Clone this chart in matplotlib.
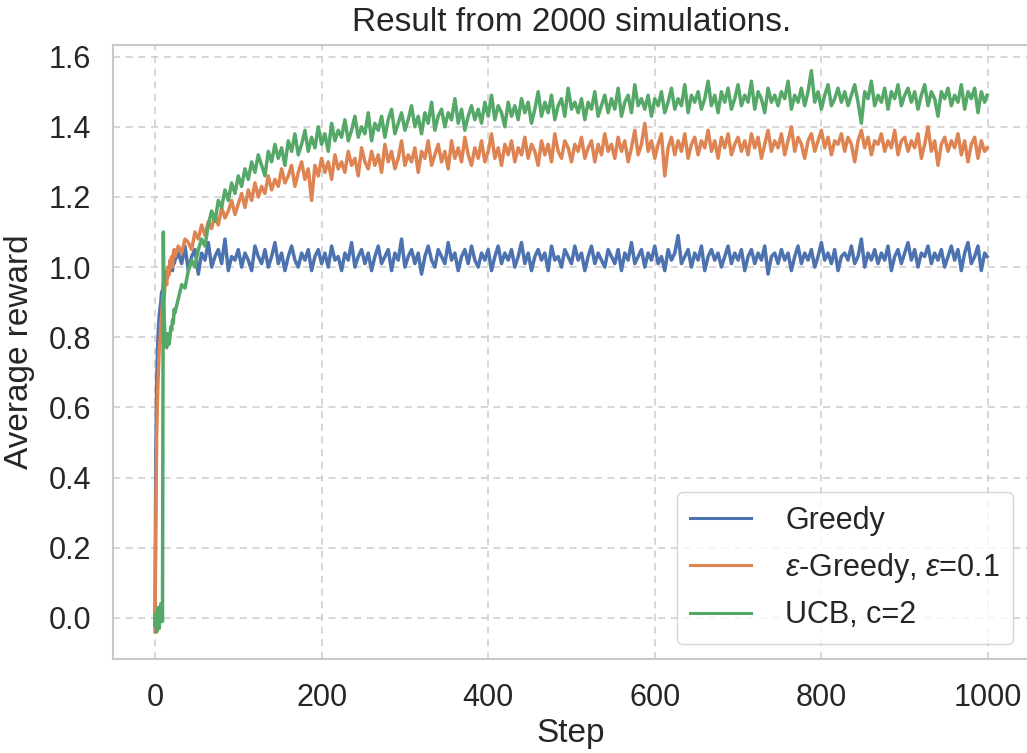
import matplotlib
matplotlib.use("Agg")
import matplotlib.pyplot as plt
import numpy as np

# ---------------- data ----------------
steps = list(range(25)) + list(range(28, 997, 4)) + [999]

greedy = [
    -0.02, 0.45, 0.66, 0.76, 0.82, 0.86, 0.88, 0.90, 0.93, 0.92,
    0.95, 0.94, 0.97, 0.96, 0.99, 0.97, 1.00, 0.98, 1.01, 1.00,
    1.02, 0.99, 1.03, 1.01, 1.02,
    1.04, 1.01, 1.06, 0.99, 1.03, 1.05, 0.98, 1.04, 1.02, 1.07,
    1.00, 1.03, 1.05, 1.01, 1.08, 0.99, 1.03, 1.02, 1.05, 1.00,
    1.04, 1.02, 0.99, 1.06, 1.03, 1.01, 1.05, 1.00, 1.03, 1.07,
    1.01, 1.04, 0.99, 1.03, 1.06, 1.02, 1.00, 1.04, 1.02, 1.05,
    0.99, 1.03, 1.05, 1.01, 1.04, 1.00, 1.06, 1.02, 1.03, 0.99,
    1.04, 1.02, 1.07, 1.00, 1.03, 1.05, 1.01, 1.04, 0.99, 1.03,
    1.06, 1.01, 1.03, 1.05, 0.99, 1.04, 1.02, 1.08, 1.00, 1.03,
    1.05, 1.01, 1.04, 0.98, 1.03, 1.06, 1.02, 1.00, 1.05, 1.03,
    1.01, 1.07, 1.02, 1.04, 0.99, 1.03, 1.05, 1.01, 1.06, 1.02,
    1.00, 1.04, 1.02, 1.05, 0.99, 1.03, 1.06, 1.01, 1.04, 1.02,
    1.05, 1.00, 1.03, 1.07, 1.01, 1.04, 0.99, 1.03, 1.05, 1.02,
    1.04, 0.99, 1.06, 1.02, 1.03, 1.00, 1.05, 1.03, 1.01, 1.06,
    1.02, 1.04, 0.99, 1.03, 1.06, 1.01, 1.04, 1.02, 1.00, 1.05,
    1.03, 1.01, 1.05, 0.99, 1.04, 1.02, 1.07, 1.01, 1.03, 1.05,
    1.00, 1.04, 1.02, 1.06, 1.01, 1.03, 0.99, 1.05, 1.02, 1.04,
    1.09, 1.01, 1.03, 1.05, 1.00, 1.04, 1.02, 1.06, 0.99, 1.03,
    1.05, 1.02, 1.04, 1.00, 1.03, 1.06, 1.01, 1.04, 1.02, 1.05,
    0.99, 1.03, 1.05, 1.01, 1.04, 1.02, 1.06, 0.98, 1.03, 1.04,
    1.01, 1.05, 1.02, 1.04, 0.99, 1.03, 1.06, 1.01, 1.04, 1.02,
    1.05, 1.00, 1.03, 1.07, 1.02, 1.04, 1.01, 1.05, 0.99, 1.03,
    1.04, 1.02, 1.06, 1.01, 1.03, 1.08, 1.00, 1.04, 1.02, 1.05,
    1.01, 1.04, 1.02, 1.06, 0.99, 1.03, 1.05, 1.01, 1.04, 1.07,
    1.02, 1.05, 1.00, 1.04, 1.03, 1.06, 1.01, 1.04, 1.02, 1.05,
    1.00, 1.03, 1.06, 1.02, 1.05, 0.99, 1.04, 1.07, 1.01, 1.03,
    1.06, 0.99, 1.04, 1.03,
]

eps_greedy = [
    -0.04, 0.28, 0.52, 0.63, 0.70, 0.76, 0.79, 0.84, 0.86, 0.90,
    0.92, 0.91, 0.95, 0.97, 0.95, 0.99, 1.00, 0.98, 1.02, 1.01,
    1.03, 1.00, 1.04, 1.05, 1.03,
    1.06, 1.04, 1.08, 1.07, 1.05, 1.10, 1.08, 1.12, 1.09, 1.13,
    1.11, 1.15, 1.12, 1.17, 1.14, 1.16, 1.19, 1.15, 1.18, 1.21,
    1.17, 1.22, 1.19, 1.24, 1.20, 1.23, 1.21, 1.26, 1.22, 1.25,
    1.23, 1.28, 1.24, 1.26, 1.29, 1.23, 1.27, 1.30, 1.25, 1.28,
    1.19, 1.29, 1.26, 1.31, 1.27, 1.30, 1.25, 1.32, 1.28, 1.30,
    1.27, 1.33, 1.29, 1.31, 1.26, 1.34, 1.30, 1.28, 1.33, 1.29,
    1.32, 1.27, 1.35, 1.30, 1.33, 1.28, 1.31, 1.36, 1.29, 1.32,
    1.30, 1.34, 1.27, 1.33, 1.31, 1.36, 1.29, 1.32, 1.35, 1.30,
    1.33, 1.28, 1.36, 1.31, 1.34, 1.30, 1.37, 1.32, 1.29, 1.34,
    1.31, 1.36, 1.30, 1.33, 1.38, 1.31, 1.34, 1.29, 1.35, 1.32,
    1.36, 1.30, 1.34, 1.32, 1.37, 1.31, 1.35, 1.33, 1.29, 1.36,
    1.32, 1.35, 1.30, 1.38, 1.33, 1.31, 1.36, 1.34, 1.30, 1.35,
    1.33, 1.37, 1.31, 1.34, 1.36, 1.30, 1.35, 1.32, 1.38, 1.33,
    1.35, 1.31, 1.37, 1.33, 1.36, 1.30, 1.34, 1.39, 1.32, 1.35,
    1.41, 1.33, 1.36, 1.31, 1.35, 1.38, 1.26, 1.34, 1.37, 1.32,
    1.36, 1.33, 1.38, 1.31, 1.35, 1.37, 1.32, 1.36, 1.34, 1.39,
    1.33, 1.36, 1.31, 1.37, 1.34, 1.38, 1.32, 1.35, 1.37, 1.33,
    1.36, 1.32, 1.38, 1.34, 1.37, 1.31, 1.35, 1.39, 1.33, 1.36,
    1.34, 1.38, 1.32, 1.36, 1.40, 1.33, 1.37, 1.35, 1.31, 1.36,
    1.38, 1.33, 1.36, 1.39, 1.34, 1.37, 1.32, 1.36, 1.35, 1.38,
    1.33, 1.37, 1.35, 1.30, 1.36, 1.39, 1.34, 1.37, 1.32, 1.36,
    1.35, 1.38, 1.33, 1.36, 1.34, 1.39, 1.32, 1.36, 1.37, 1.33,
    1.36, 1.34, 1.38, 1.31, 1.35, 1.40, 1.33, 1.36, 1.29, 1.35,
    1.37, 1.33, 1.36, 1.34, 1.38, 1.32, 1.36, 1.30, 1.35, 1.37,
    1.31, 1.36, 1.33, 1.34,
]

ucb = [
    -0.02, 0.01, -0.04, 0.02, 0.03, -0.03, 0.00, 0.04, 0.02, -0.01,
    1.10, 0.86, 0.80, 0.79, 0.77, 0.81, 0.79, 0.78, 0.80, 0.83,
    0.82, 0.85, 0.84, 0.88, 0.87,
    0.91, 0.95, 0.94, 0.99, 1.02, 1.00, 1.05, 1.08, 1.06, 1.12,
    1.16, 1.13, 1.19, 1.17, 1.22, 1.19, 1.24, 1.21, 1.26, 1.23,
    1.28, 1.25, 1.30, 1.27, 1.32, 1.29, 1.26, 1.33, 1.30, 1.35,
    1.31, 1.34, 1.29, 1.36, 1.33, 1.38, 1.32, 1.35, 1.39, 1.33,
    1.37, 1.34, 1.40, 1.35, 1.38, 1.33, 1.41, 1.36, 1.39, 1.37,
    1.42, 1.36, 1.39, 1.43, 1.37, 1.40, 1.38, 1.44, 1.36, 1.41,
    1.39, 1.43, 1.37, 1.42, 1.45, 1.38, 1.41, 1.44, 1.39, 1.42,
    1.46, 1.40, 1.43, 1.38, 1.44, 1.41, 1.47, 1.39, 1.43, 1.45,
    1.40, 1.44, 1.42, 1.48, 1.41, 1.45, 1.39, 1.43, 1.46, 1.42,
    1.45, 1.41, 1.47, 1.43, 1.49, 1.42, 1.46, 1.44, 1.40, 1.47,
    1.43, 1.46, 1.42, 1.48, 1.44, 1.47, 1.41, 1.45, 1.50, 1.43,
    1.47, 1.44, 1.49, 1.42, 1.46, 1.48, 1.43, 1.51, 1.45, 1.47,
    1.44, 1.48, 1.42, 1.47, 1.45, 1.50, 1.43, 1.46, 1.49, 1.44,
    1.48, 1.45, 1.51, 1.43, 1.47, 1.49, 1.44, 1.52, 1.46, 1.48,
    1.45, 1.49, 1.43, 1.48, 1.46, 1.50, 1.44, 1.47, 1.51, 1.45,
    1.48, 1.46, 1.52, 1.44, 1.49, 1.47, 1.50, 1.45, 1.48, 1.53,
    1.46, 1.49, 1.44, 1.50, 1.47, 1.51, 1.45, 1.48, 1.52, 1.46,
    1.49, 1.47, 1.53, 1.45, 1.50, 1.48, 1.44, 1.51, 1.47, 1.49,
    1.46, 1.50, 1.48, 1.53, 1.45, 1.49, 1.47, 1.51, 1.46, 1.50,
    1.56, 1.47, 1.50, 1.45, 1.49, 1.52, 1.46, 1.48, 1.51, 1.47,
    1.50, 1.46, 1.49, 1.52, 1.47, 1.41, 1.50, 1.48, 1.53, 1.46,
    1.49, 1.47, 1.51, 1.45, 1.50, 1.48, 1.52, 1.46, 1.49, 1.51,
    1.47, 1.50, 1.45, 1.49, 1.52, 1.46, 1.50, 1.48, 1.43, 1.50,
    1.48, 1.51, 1.46, 1.49, 1.47, 1.52, 1.45, 1.50, 1.48, 1.51,
    1.44, 1.50, 1.47, 1.49,
]

series_labels = ["Greedy", r"$\varepsilon$-Greedy, $\varepsilon$=0.1", "UCB, c=2"]
series_colors = ["#4C72B0", "#DD8452", "#55A868"]
title = "Result from 2000 simulations."
xlabel = "Step"
ylabel = "Average reward"
xticks = [0, 200, 400, 600, 800, 1000]
yticks = [0.0, 0.2, 0.4, 0.6, 0.8, 1.0, 1.2, 1.4, 1.6]

# ---------------- style ----------------
plt.rcParams["font.family"] = ["Liberation Sans", "DejaVu Sans"]
plt.rcParams["mathtext.fontset"] = "custom"
plt.rcParams["mathtext.it"] = "Liberation Sans:italic"
plt.rcParams["mathtext.rm"] = "Liberation Sans"
text_color = "#262626"

fig = plt.figure(figsize=(10.27, 7.53), dpi=100)
ax = fig.add_axes([0.1104, 0.1244, 0.8913, 0.8158])
ax.set_facecolor("white")

for vals, lab, col in zip([greedy, eps_greedy, ucb], series_labels, series_colors):
    ax.plot(steps[:len(vals)], vals, color=col, lw=2.5, label=lab)

ax.set_xlim(-49.95, 1048.95)
ax.set_ylim(-0.118, 1.633)
ax.set_xticks(xticks)
ax.set_yticks(yticks)
ax.set_yticklabels([f"{v:.1f}" for v in yticks])
ax.tick_params(axis="both", length=0, labelsize=22, colors=text_color)
ax.tick_params(axis="x", pad=17)
ax.tick_params(axis="y", pad=16)

ax.grid(True, color="#cccccc", lw=1.1, linestyle=(0, (4.6, 3.7)))
ax.set_axisbelow(True)
for sp in ax.spines.values():
    sp.set_color("#c8c8c8")
    sp.set_linewidth(1.5)

ax.set_title(title, fontsize=24, color=text_color, pad=10)
ax.set_xlabel(xlabel, fontsize=24, color=text_color, labelpad=4)
ax.set_ylabel(ylabel, fontsize=24, color=text_color, labelpad=10)

leg = ax.legend(loc="lower right", fontsize=22, frameon=True, fancybox=True,
                borderaxespad=0.5, handletextpad=1.1, borderpad=0.45)
leg.get_frame().set_edgecolor("#cccccc")
leg.get_frame().set_facecolor("white")
for line in leg.get_lines():
    line.set_linewidth(2.2)
for t in leg.get_texts():
    t.set_color(text_color)

fig.savefig("out.png", dpi=100)
